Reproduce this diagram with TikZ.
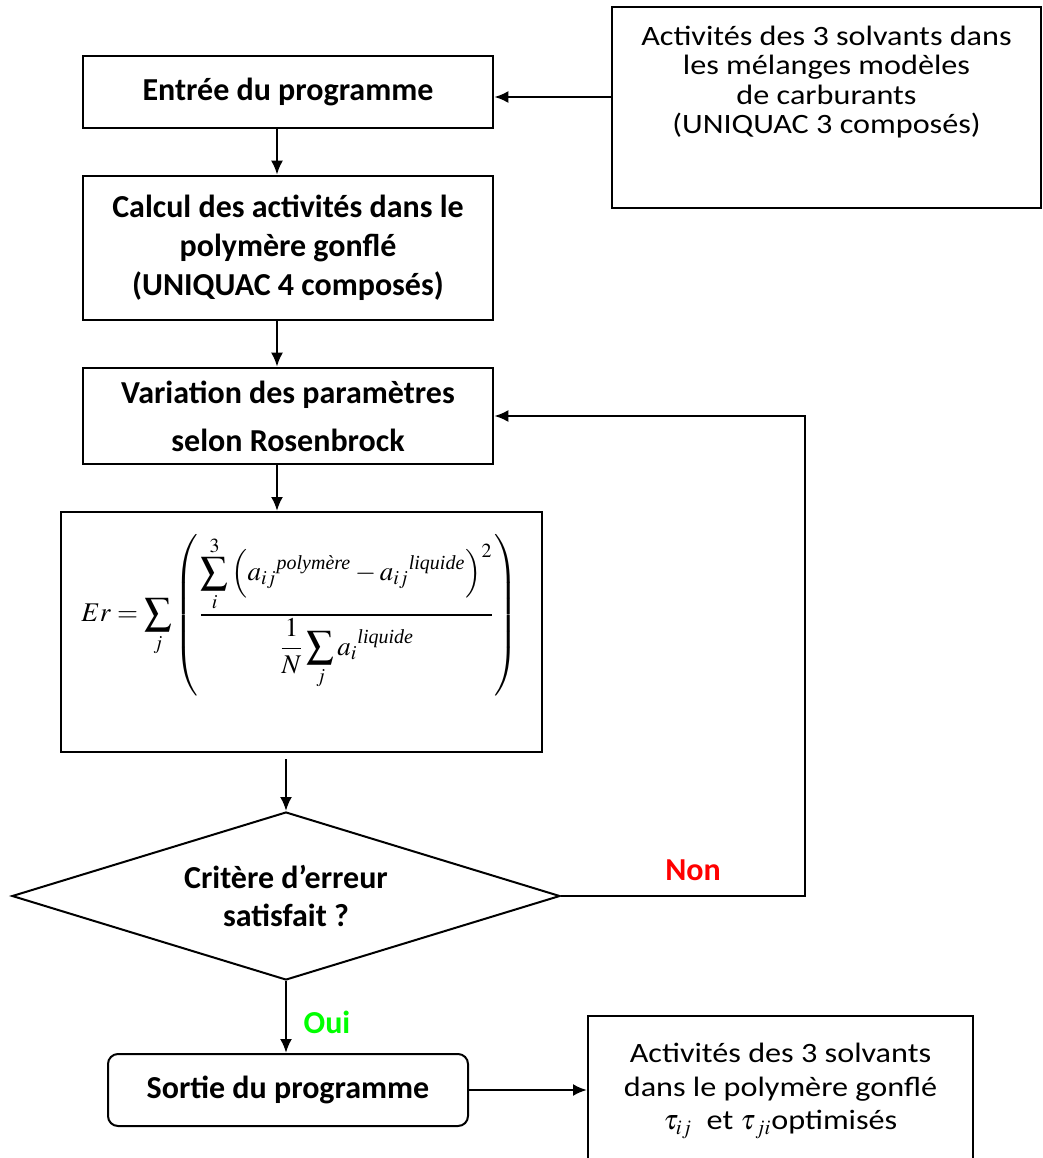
\documentclass[tikz,border=0pt]{standalone}
\usepackage{amsmath}
\usepackage{mathptmx}
\usepackage{fontspec}
\setmainfont{Carlito}
\newfontfamily\timesfont{Liberation Serif}
\newfontfamily\largefont[FakeStretch=1.15]{Carlito}
\usetikzlibrary{shapes.geometric,arrows.meta}

\newcommand{\expo}[1]{\text{\timesfont\itshape #1}}

\begin{document}
\begin{tikzpicture}[x=0.5pt,y=-0.5pt]
\tikzset{every node/.style={inner sep=0pt,align=center}}
\tikzset{etape/.style={draw,line width=1.3pt,font=\fontsize{16}{19.5}\selectfont\bfseries}}
\tikzset{donnee/.style={draw,line width=1pt}}
\tikzset{fleche/.style={line width=1.2pt,-{Latex[length=7pt,width=6pt]}}}
\tikzset{reponse/.style={font=\fontsize{16}{19}\selectfont\bfseries}}

\useasboundingbox (0,0) rectangle (1043,1158);

% entree des donnees
\node[donnee,minimum width=214.5pt,minimum height=100.5pt] (donnees) at (826.5,107.5) {};
\node[font=\largefont\fontsize{14}{14.6}\selectfont] (donneestxt) at (826.5,82) {Activités des 3 solvants dans\\les mélanges modèles\\de carburants\\(UNIQUAC 3 composés)};

% boucle principale
\node[etape,minimum width=205pt,minimum height=36pt] (entree) at (288,92) {Entrée du programme};
\node[etape,minimum width=205pt,minimum height=72pt] (calcul) at (288,248) {Calcul des activités dans le\\polymère gonflé\\(UNIQUAC 4 composés)};
\node[etape,minimum width=205pt,minimum height=48pt,font=\fontsize{16}{24}\selectfont\bfseries] (vari) at (288,416) {Variation des paramètres\\selon Rosenbrock};
\node[draw,line width=1pt,minimum width=240.5pt,minimum height=120pt] (form) at (301.5,632) {};
\node[font=\fontsize{13.5}{17}\selectfont] (erreur) at (300,615) {$\displaystyle Er=\sum_j\left(\frac{\displaystyle\sum_i^3\left(a_{ij}{}^{\expo{polymère}}-a_{ij}{}^{\expo{liquide}}\right)^2}{\displaystyle\frac{1}{N}\sum_j a_i{}^{\expo{liquide}}}\right)$};
\node[draw,diamond,aspect=3.26,line width=1pt,minimum width=274pt,minimum height=84pt,font=\fontsize{16}{19}\selectfont\bfseries] (losange) at (286,896) {Critère d’erreur\\satisfait ?};
\node[etape,rounded corners=5pt,line width=1pt,minimum width=180pt,minimum height=36pt] (sortie) at (288,1090) {Sortie du programme};
\node[draw,line width=1pt,minimum width=192.5pt,minimum height=75pt,font=\largefont\fontsize{14}{16.75}\selectfont] (resultat) at (780.5,1091) {Activités des 3 solvants\\dans le polymère gonflé\\$\tau_{ij}$\ \ et $\tau_{\,ji}$optimisés};

\node[reponse,text=red] (non) at (693,870) {Non};
\node[reponse,text=green] (oui) at (327,1022) {Oui};
\coordinate (coin) at (805,896);

% fleches
\draw[fleche] (donnees.west |- 0,97) -- (entree.east |- 0,97);
\draw[fleche] ([xshift=-5.5pt]entree.south) -- ([xshift=-5.5pt]calcul.north);
\draw[fleche] ([xshift=-5.5pt]calcul.south) -- ([xshift=-5.5pt]vari.north);
\draw[fleche] ([xshift=-5.5pt]vari.south) -- ([xshift=-5.5pt]vari.south |- form.north);
\draw[fleche,shorten <=3pt] (form.south -| losange.north) -- (losange.north);
\draw[fleche] (losange.east) -- (coin) -- (coin |- vari.east) -- (vari.east);
\draw[fleche] (losange.south) -- (losange.south |- sortie.north);
\draw[fleche] (sortie.east) -- (resultat.west |- sortie.east);

\end{tikzpicture}
\end{document}
